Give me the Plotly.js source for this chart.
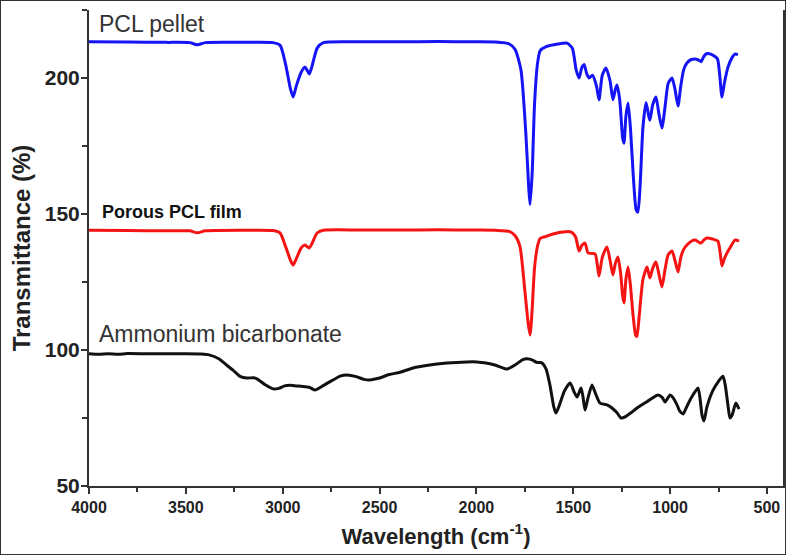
<!DOCTYPE html>
<html>
<head>
<meta charset="utf-8">
<script src="https://cdn.plot.ly/plotly-3.0.1.min.js"></script>
<style>
  html, body { margin: 0; padding: 0; background: #fff; }
  #wrap { position: relative; width: 787px; height: 556px; }
  #chart { position: absolute; left: 0; top: 0; width: 787px; height: 556px; }
  #frame { position: absolute; left: 0; top: 0; width: 784px; height: 553px; border: 1.5px solid #333; pointer-events: none; }
</style>
</head>
<body>
<div id="wrap"><div id="chart"></div><div id="frame"></div></div>
<script>
// ---- Data ----
const pelletX = [4000,3800,3600,3480,3440,3400,3200,3050,3013,2985,2960,2946,2930,2905,2885,2875,2863,2850,2822,2790,2600,2400,2200,2000,1900,1830,1800,1770,1745,1730,1723,1712,1700,1685,1671,1640,1580,1532,1505,1485,1470,1455,1444,1430,1418,1400,1380,1367,1350,1331,1310,1295,1282,1274,1260,1245,1238,1228,1217,1205,1190,1175,1166,1155,1140,1124,1110,1104,1090,1073,1058,1042,1025,1010,990,975,959,945,930,913,890,871,850,840,825,810,790,770,755,745,732,720,701,680,665,650];
const pelletY = [213.3,213.2,213.1,213,212.2,213,213.1,213,212,205,196,193,197,202,204,203,201.5,204,211,213,213.3,213.3,213.4,213.3,213.2,212.5,210.5,203,180,160,153.5,165,190,205,210,211.5,212.5,212.8,211,203,200,204,205,201.5,200,201,197,192,201,203.7,199,192,196,197.4,192,178,176,186,190.8,182,164,151.5,150.7,160,182,191,186,184.5,190,193,187,181.6,190,198,200,196,189.7,197,203,205.5,206.8,207,206.5,206,208,209,208.8,208,207,202,193,198,204,207.5,208.8,208.6];

const filmX = [4000,3800,3600,3480,3440,3400,3200,3050,3013,2985,2960,2946,2930,2905,2885,2863,2850,2822,2790,2600,2400,2200,2000,1900,1830,1800,1775,1750,1733,1723,1712,1700,1685,1671,1640,1584,1516,1500,1486,1470,1455,1439,1424,1405,1387,1375,1367,1350,1326,1310,1295,1282,1269,1255,1245,1238,1228,1217,1205,1190,1178,1171,1160,1140,1119,1110,1104,1090,1073,1058,1042,1025,1010,990,975,959,945,930,913,890,871,855,840,825,810,780,753,742,732,720,700,691,665,644];
const filmY = [144,143.9,143.8,143.8,143.1,143.8,144,143.9,143,138,133,131.2,133.5,137.5,138.6,137.5,139,143,144,144.1,144.1,144.2,144.1,144,143.6,142,138,122,110,105.5,115,130,138,141,141.8,143,143.5,142.8,141.2,136.4,138.5,139.3,135.7,135.5,135.3,131,127.2,134,137.9,133,127.6,132,134.2,128,120,117.3,126,130.5,124,112,105.5,105,112,126,130.5,128,126.5,130,132.4,128,123.2,130,135,136.4,133,128.7,134,137,138.6,140,140.4,139.8,139.3,140.5,141.2,140.8,140,136,130.9,133.5,136.5,137.5,140.4,140];

const ammoniumX = [4000,3950,3900,3850,3800,3700,3600,3500,3420,3380,3330,3290,3257,3220,3185,3150,3133,3090,3050,3020,2990,2962,2930,2895,2860,2833,2800,2760,2700,2668,2620,2580,2550,2500,2450,2394,2327,2250,2152,2050,1997,1950,1900,1842,1800,1760,1738,1710,1690,1671,1661,1640,1620,1600,1589,1570,1545,1516,1495,1480,1460,1450,1439,1425,1403,1385,1362,1326,1300,1275,1253,1230,1200,1171,1120,1062,1040,1026,1000,985,964,950,933,915,890,856,845,835,825,810,780,750,727,715,700,691,680,670,660,652,644];
const ammoniumY = [98.6,98.4,98.6,98.4,98.7,98.6,98.6,98.6,98.5,98.2,96.8,94.5,92.6,90.3,89.7,89.8,89.4,87.2,85.7,85.9,86.8,87,86.8,86.6,86.2,85.3,86.5,88.2,90.5,90.8,90.2,89.2,89,89.7,91,91.8,93.4,94.4,95.2,95.6,95.6,95.2,94.4,93,94.5,96.5,96.8,96.3,95.5,95.4,95.2,93,87,79,76.8,80,85,87.9,84.5,82.7,86,83,77.9,82,87.1,84,80.5,79.8,78.7,77,75,75.5,77,78.7,81,83.5,82.5,80.9,83.5,82.5,79.8,77.5,76.5,79,82.5,86,82,76,73.9,79,85,88.5,90.4,87,79,75,76,78.5,80.5,79.5,78.3];

const seriesNames = ["PCL pellet", "Porous PCL film", "Ammonium bicarbonate"];
const xTickVals = [4000,3500,3000,2500,2000,1500,1000,500];
const yTickVals = [50,100,150,200];

const FONT = 'Arial, "Liberation Sans", Helvetica, sans-serif';

const traces = [
  {x: pelletX, y: pelletY, name: seriesNames[0], mode: 'lines', line: {color: '#1414f5', width: 3, shape: 'spline', smoothing: 0.6}},
  {x: filmX, y: filmY, name: seriesNames[1], mode: 'lines', line: {color: '#f51414', width: 3, shape: 'spline', smoothing: 0.6}},
  {x: ammoniumX, y: ammoniumY, name: seriesNames[2], mode: 'lines', line: {color: '#111111', width: 3, shape: 'spline', smoothing: 0.6}}
];

const layout = {
  width: 787, height: 556,
  margin: {l: 89, r: 4, t: 10, b: 70},
  paper_bgcolor: '#ffffff', plot_bgcolor: '#ffffff',
  showlegend: false,
  font: {family: FONT, color: '#222'},
  xaxis: {
    range: [4000, 417], tickvals: xTickVals, ticktext: xTickVals.map(String),
    showgrid: false, zeroline: false,
    showline: true, linecolor: '#333', linewidth: 2, mirror: false,
    ticks: 'outside', ticklen: 6, tickwidth: 2, tickcolor: '#333',
    minor: {ticks: 'outside', dtick: 250, tick0: 0, ticklen: 4, tickwidth: 2, tickcolor: '#333', showgrid: false},
    tickfont: {family: FONT, size: 16, color: '#222', weight: 'bold'},
    title: {text: '<b>Wavelength (cm<sup>-1</sup>)</b>', font: {family: FONT, size: 22, color: '#222'}, standoff: 13},
    automargin: false
  },
  yaxis: {
    range: [50, 225], tickvals: yTickVals, ticktext: yTickVals.map(String),
    showgrid: false, zeroline: false,
    showline: true, linecolor: '#333', linewidth: 2, mirror: true,
    ticks: 'outside', ticklen: 6, tickwidth: 2, tickcolor: '#333',
    ticklabelstandoff: -3,
    minor: {ticks: 'outside', dtick: 25, tick0: 0, ticklen: 5, tickwidth: 2, tickcolor: '#333', showgrid: false},
    tickfont: {family: FONT, size: 21, color: '#222', weight: 'bold'},
    title: {text: '<b>Transmittance (%)</b>', font: {family: FONT, size: 24, color: '#222'}, standoff: 7},
    automargin: false
  },
  annotations: [
    {xref: 'paper', yref: 'paper', x: 0.0115, y: 0.971, xanchor: 'left', yanchor: 'middle', text: seriesNames[0], showarrow: false, font: {family: FONT, size: 23, color: '#333'}},
    {xref: 'paper', yref: 'paper', x: 0.0159, y: 0.5756, xanchor: 'left', yanchor: 'middle', text: '<b>' + seriesNames[1] + '</b>', showarrow: false, font: {family: FONT, size: 18, color: '#111'}},
    {xref: 'paper', yref: 'paper', x: 0.0115, y: 0.319, xanchor: 'left', yanchor: 'middle', text: seriesNames[2], showarrow: false, font: {family: FONT, size: 23, color: '#333'}}
  ]
};

Plotly.newPlot('chart', traces, layout, {staticPlot: true, displayModeBar: false});
</script>
</body>
</html>
